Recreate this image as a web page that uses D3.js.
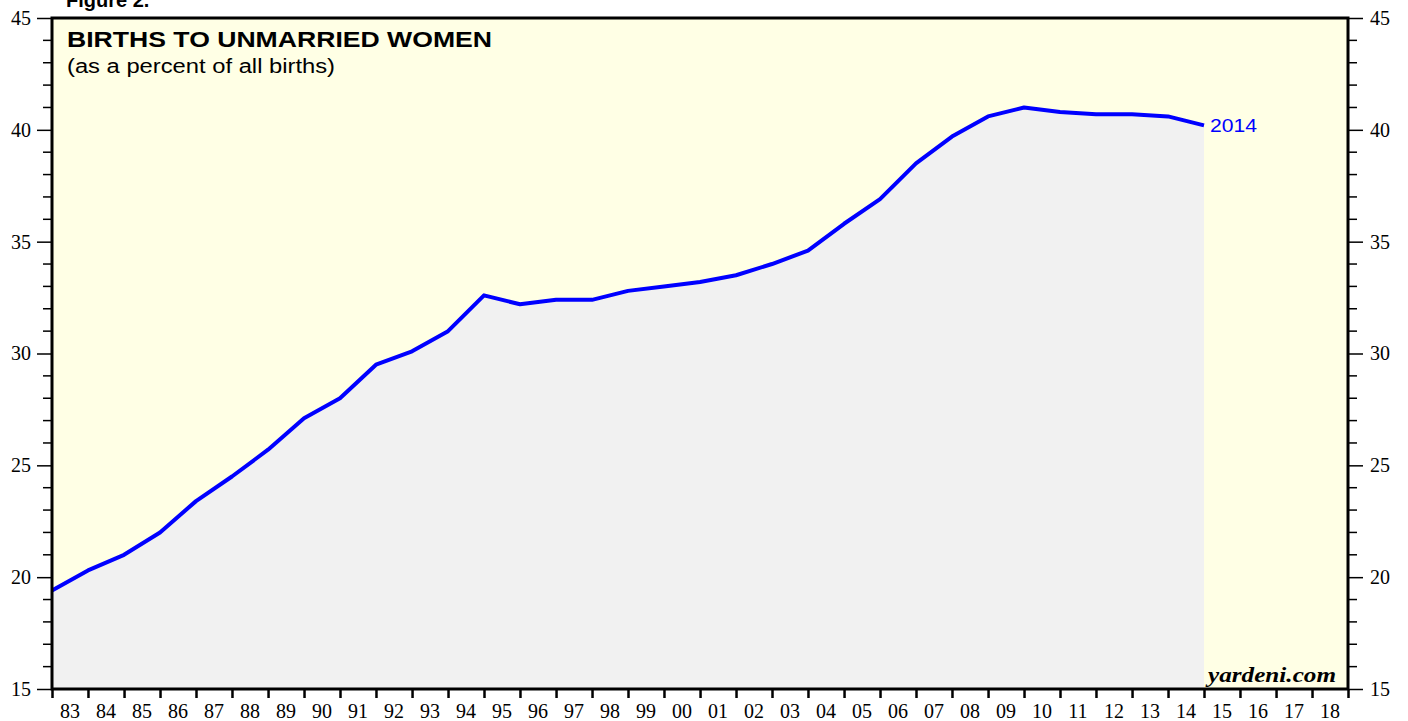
<!DOCTYPE html>
<html>
<head>
<meta charset="utf-8">
<script src="https://cdn.jsdelivr.net/npm/d3@7"></script>
<style>
  body { margin: 0; background: #fff; }
  svg { display: block; }
</style>
</head>
<body>
<div id="chart"></div>
<script>
// data: births to unmarried women, % of all births (value at year end)
const years = [1982, 1983, 1984, 1985, 1986, 1987, 1988, 1989, 1990, 1991, 1992,
  1993, 1994, 1995, 1996, 1997, 1998, 1999, 2000, 2001, 2002, 2003, 2004, 2005,
  2006, 2007, 2008, 2009, 2010, 2011, 2012, 2013, 2014];
const pct = [19.4, 20.3, 21.0, 22.0, 23.4, 24.5, 25.7, 27.1, 28.0, 29.5, 30.1,
  31.0, 32.6, 32.2, 32.4, 32.4, 32.8, 33.0, 33.2, 33.5, 34.0, 34.6, 35.8, 36.9,
  38.5, 39.7, 40.6, 41.0, 40.8, 40.7, 40.7, 40.6, 40.2];
const yTicks = [15, 20, 25, 30, 35, 40, 45];
const xYears = d3.range(1983, 2019);

const W = 1408, H = 721;
const margin = { top: 18, right: 60, bottom: 32, left: 52 };
const iw = W - margin.left - margin.right;
const ih = H - margin.top - margin.bottom;

const sans = '"Liberation Sans", Arial, Helvetica, sans-serif';
const serif = '"Liberation Serif", "Times New Roman", serif';

const svg = d3.select('#chart').append('svg')
  .attr('width', W)
  .attr('height', H);

const g = svg.append('g')
  .attr('transform', `translate(${margin.left},${margin.top})`);

const x = d3.scaleTime()
  .domain([new Date(1983, 0, 1), new Date(2019, 0, 1)])
  .range([0, iw]);
const y = d3.scaleLinear()
  .domain([15, 45])
  .range([ih, 0]);

const data = years.map((yr, i) => ({ date: new Date(yr + 1, 0, 1), v: pct[i] }));

// background
g.append('rect')
  .attr('width', iw)
  .attr('height', ih)
  .attr('fill', '#ffffe5');

// shaded area under line
g.append('path')
  .datum(data)
  .attr('fill', '#f1f1f1')
  .attr('d', d3.area().x(d => x(d.date)).y0(ih).y1(d => y(d.v)));

// line
g.append('path')
  .datum(data)
  .attr('fill', 'none')
  .attr('stroke', '#0000ff')
  .attr('stroke-width', 4)
  .attr('stroke-linejoin', 'round')
  .attr('d', d3.line().x(d => x(d.date)).y(d => y(d.v)));

// last value label
const last = data[data.length - 1];
g.append('text')
  .attr('x', x(last.date) + 6)
  .attr('y', y(last.v) + 7)
  .attr('fill', '#0000ff')
  .attr('textLength', 47)
  .attr('lengthAdjust', 'spacingAndGlyphs')
  .style('font', `19px ${sans}`)
  .text(years[years.length - 1]);

// y axes
const minor = d3.range(15, 46, 1).filter(d => !yTicks.includes(d));

const leftAx = g.append('g')
  .call(d3.axisLeft(y).tickValues(yTicks).tickSize(15).tickPadding(6));
g.append('g')
  .selectAll('line')
  .data(minor)
  .join('line')
  .attr('x1', -9).attr('x2', 0)
  .attr('y1', d => y(d)).attr('y2', d => y(d))
  .attr('stroke', '#000').attr('stroke-width', 1.5);

const rightAx = g.append('g')
  .attr('transform', `translate(${iw},0)`)
  .call(d3.axisRight(y).tickValues(yTicks).tickSize(15).tickPadding(7));
g.append('g')
  .attr('transform', `translate(${iw},0)`)
  .selectAll('line')
  .data(minor)
  .join('line')
  .attr('x1', 0).attr('x2', 9)
  .attr('y1', d => y(d)).attr('y2', d => y(d))
  .attr('stroke', '#000').attr('stroke-width', 1.5);

[leftAx, rightAx].forEach(ax => {
  ax.select('.domain').remove();
  ax.selectAll('.tick line').attr('stroke-width', 1.5);
  ax.selectAll('text').style('font', `20px ${serif}`).attr('fill', '#000');
});

// x axis: ticks at year boundaries, labels centred in each year
const xAx = g.append('g')
  .attr('transform', `translate(0,${ih})`)
  .call(d3.axisBottom(x)
    .tickValues(d3.range(1983, 2020).map(yr => new Date(yr, 0, 1)))
    .tickSize(9)
    .tickFormat(''));
xAx.select('.domain').remove();
xAx.selectAll('.tick line').attr('stroke-width', 2.5);

g.append('g')
  .selectAll('text')
  .data(xYears)
  .join('text')
  .attr('x', d => (x(new Date(d, 0, 1)) + x(new Date(d + 1, 0, 1))) / 2)
  .attr('y', ih + 29)
  .attr('text-anchor', 'middle')
  .style('font', `20px ${serif}`)
  .text(d => String(d % 100).padStart(2, '0'));

// frame
g.append('rect')
  .attr('width', iw)
  .attr('height', ih)
  .attr('fill', 'none')
  .attr('stroke', '#000')
  .attr('stroke-width', 3);

// titles
svg.append('text')
  .attr('x', 66).attr('y', 7)
  .style('font', `bold 20px ${sans}`)
  .text('Figure 2.');
g.append('text')
  .attr('x', 15).attr('y', 28.5)
  .attr('textLength', 425)
  .attr('lengthAdjust', 'spacingAndGlyphs')
  .style('font', `bold 22.5px ${sans}`)
  .text('BIRTHS TO UNMARRIED WOMEN');
g.append('text')
  .attr('x', 15).attr('y', 55)
  .attr('textLength', 268)
  .attr('lengthAdjust', 'spacingAndGlyphs')
  .style('font', `20px ${sans}`)
  .text('(as a percent of all births)');

// source
g.append('text')
  .attr('x', iw - 12 - 128).attr('y', ih - 7)
  .attr('textLength', 128)
  .attr('lengthAdjust', 'spacingAndGlyphs')
  .style('font', `italic bold 21px ${serif}`)
  .text('yardeni.com');
</script>
</body>
</html>
